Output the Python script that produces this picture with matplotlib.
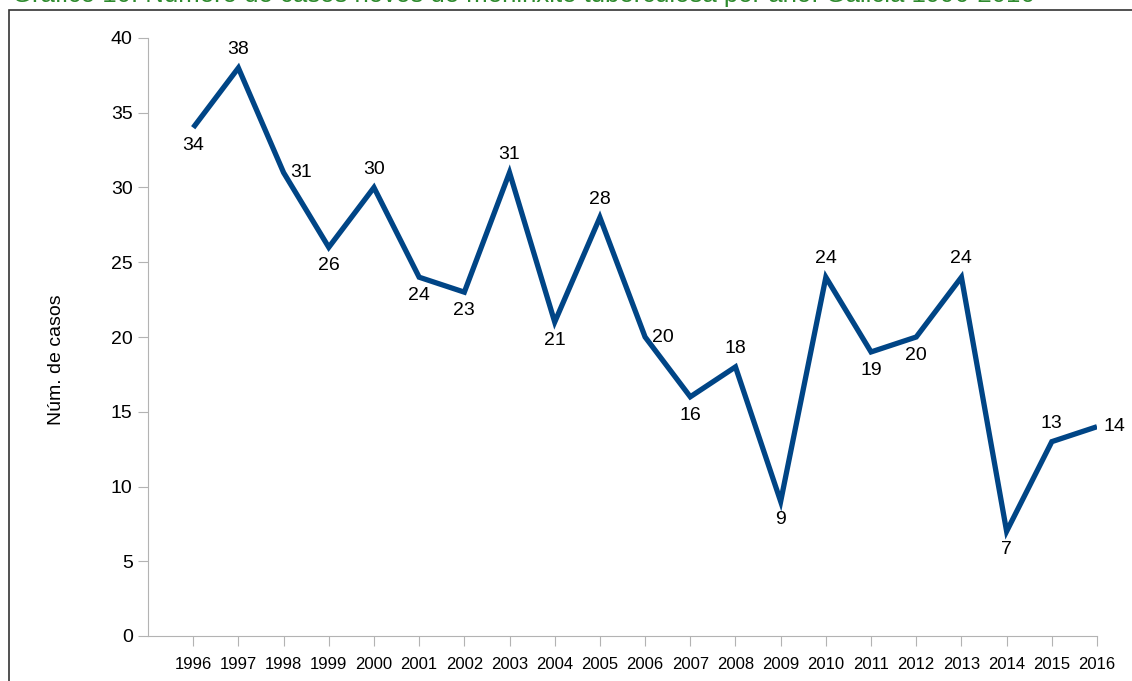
import matplotlib.pyplot as plt
from matplotlib.patches import Rectangle

years = [str(y) for y in range(1996, 2017)]
cases = [34, 38, 31, 26, 30, 24, 23, 31, 21, 28, 20, 16, 18, 9, 24, 19, 20, 24, 7, 13, 14]
# where each value label sits relative to its point
label_pos = ["below", "above", "right", "below", "above", "below", "below", "above",
             "below", "above", "right", "below", "above", "below", "above", "below",
             "below", "above", "below", "above", "right"]

title = "Gráfico 10. Número de casos novos de meninxite tuberculosa por ano. Galicia 1996-2016"

plt.rcParams["font.family"] = ["Liberation Sans", "DejaVu Sans"]

fig = plt.figure(figsize=(11.32, 6.81), dpi=100)
ax = fig.add_axes([148 / 1132, 1 - 636 / 681, 949 / 1132, 598 / 681])

# outer frame of the chart (cut off at right and bottom)
fig.patches.append(Rectangle((9 / 1132, -0.1), 1.2, 1.1 - 10 / 681,
                             transform=fig.transFigure, fill=False,
                             edgecolor="#333333", linewidth=1.2))
# title sits mostly above the visible area, as in the source image
fig.text(12 / 1132, 1 - 2 / 681, title, color="#2e8b2e", fontsize=18.5,
         va="baseline", ha="left")

x = list(range(1, len(years) + 1))
ax.plot(x, cases, color="#004586", linewidth=3.8, solid_joinstyle="miter",
        solid_capstyle="butt")

for xi, v, pos in zip(x, cases, label_pos):
    if pos == "above":
        ax.annotate(str(v), (xi, v), xytext=(0, 7), textcoords="offset points",
                    ha="center", va="bottom", fontsize=14)
    elif pos == "below":
        ax.annotate(str(v), (xi, v), xytext=(0, -7), textcoords="offset points",
                    ha="center", va="top", fontsize=14)
    else:
        ax.annotate(str(v), (xi, v), xytext=(5, 0), textcoords="offset points",
                    ha="left", va="center", fontsize=14)

ax.set_xlim(0, len(years))
ax.set_ylim(0, 40)
ax.set_yticks(range(0, 41, 5))
ax.set_xticks(x)
ax.set_xticklabels(years, fontsize=12)
ax.tick_params(axis="y", labelsize=14, length=7, color="#b3b3b3", pad=4)
ax.tick_params(axis="x", length=7, color="#b3b3b3", pad=8)
ax.set_ylabel("Núm. de casos", fontsize=14)
ax.yaxis.set_label_coords(-0.0875, 0.462)

for s in ["top", "right"]:
    ax.spines[s].set_visible(False)
for s in ["left", "bottom"]:
    ax.spines[s].set_color("#b3b3b3")

plt.savefig("out.png", dpi=100)
